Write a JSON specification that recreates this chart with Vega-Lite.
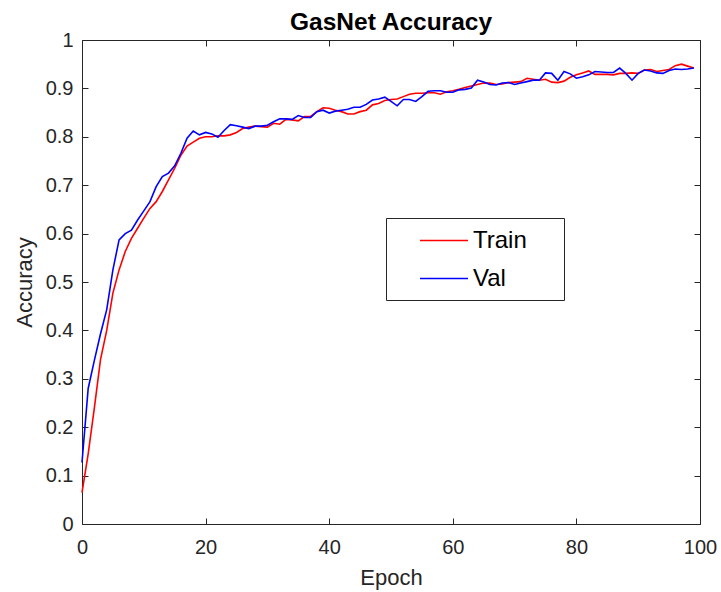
{
"$schema":"https://vega.github.io/schema/vega-lite/v6.json",
"width":618,"height":484,
"autosize":{"type":"none"},
"padding":{"left":82,"top":40,"right":21,"bottom":68},
"background":"white",
"title":{"text":"GasNet Accuracy","font":"Liberation Sans","fontSize":24.5,"fontWeight":"bold","color":"black","anchor":"middle","frame":"group","baseline":"alphabetic","offset":-24},
"config":{"view":{"stroke":null},
"axis":{"grid":false,"labelFlush":false,"domainColor":"#262626","domainWidth":1,"tickColor":"#262626","tickSize":-6,"tickWidth":1,"labelFont":"Liberation Sans","labelFontSize":20,"labelColor":"#262626","titleFont":"Liberation Sans","titleFontSize":22,"titleFontWeight":"normal","titleColor":"#262626"}},
"datasets":{"acc":[
{"epoch":0,"set":"Train","acc":0.065},{"epoch":1,"set":"Train","acc":0.145},{"epoch":2,"set":"Train","acc":0.24},{"epoch":3,"set":"Train","acc":0.34},{"epoch":4,"set":"Train","acc":0.40},{"epoch":5,"set":"Train","acc":0.477},{"epoch":6,"set":"Train","acc":0.525},{"epoch":7,"set":"Train","acc":0.563},{"epoch":8,"set":"Train","acc":0.59},{"epoch":9,"set":"Train","acc":0.611},
{"epoch":10,"set":"Train","acc":0.632},{"epoch":11,"set":"Train","acc":0.652},{"epoch":12,"set":"Train","acc":0.666},{"epoch":13,"set":"Train","acc":0.687},{"epoch":14,"set":"Train","acc":0.711},{"epoch":15,"set":"Train","acc":0.735},{"epoch":16,"set":"Train","acc":0.762},{"epoch":17,"set":"Train","acc":0.781},{"epoch":18,"set":"Train","acc":0.789},{"epoch":19,"set":"Train","acc":0.797},
{"epoch":20,"set":"Train","acc":0.8},{"epoch":21,"set":"Train","acc":0.8},{"epoch":22,"set":"Train","acc":0.802},{"epoch":23,"set":"Train","acc":0.802},{"epoch":24,"set":"Train","acc":0.804},{"epoch":25,"set":"Train","acc":0.809},{"epoch":26,"set":"Train","acc":0.817},{"epoch":27,"set":"Train","acc":0.82},{"epoch":28,"set":"Train","acc":0.822},{"epoch":29,"set":"Train","acc":0.821},
{"epoch":30,"set":"Train","acc":0.82},{"epoch":31,"set":"Train","acc":0.828},{"epoch":32,"set":"Train","acc":0.826},{"epoch":33,"set":"Train","acc":0.836},{"epoch":34,"set":"Train","acc":0.835},{"epoch":35,"set":"Train","acc":0.833},{"epoch":36,"set":"Train","acc":0.842},{"epoch":37,"set":"Train","acc":0.842},{"epoch":38,"set":"Train","acc":0.852},{"epoch":39,"set":"Train","acc":0.86},
{"epoch":40,"set":"Train","acc":0.859},{"epoch":41,"set":"Train","acc":0.855},{"epoch":42,"set":"Train","acc":0.852},{"epoch":43,"set":"Train","acc":0.847},{"epoch":44,"set":"Train","acc":0.847},{"epoch":45,"set":"Train","acc":0.852},{"epoch":46,"set":"Train","acc":0.855},{"epoch":47,"set":"Train","acc":0.866},{"epoch":48,"set":"Train","acc":0.869},{"epoch":49,"set":"Train","acc":0.875},
{"epoch":50,"set":"Train","acc":0.877},{"epoch":51,"set":"Train","acc":0.878},{"epoch":52,"set":"Train","acc":0.883},{"epoch":53,"set":"Train","acc":0.888},{"epoch":54,"set":"Train","acc":0.89},{"epoch":55,"set":"Train","acc":0.89},{"epoch":56,"set":"Train","acc":0.891},{"epoch":57,"set":"Train","acc":0.891},{"epoch":58,"set":"Train","acc":0.888},{"epoch":59,"set":"Train","acc":0.893},
{"epoch":60,"set":"Train","acc":0.895},{"epoch":61,"set":"Train","acc":0.898},{"epoch":62,"set":"Train","acc":0.902},{"epoch":63,"set":"Train","acc":0.905},{"epoch":64,"set":"Train","acc":0.908},{"epoch":65,"set":"Train","acc":0.911},{"epoch":66,"set":"Train","acc":0.911},{"epoch":67,"set":"Train","acc":0.908},{"epoch":68,"set":"Train","acc":0.909},{"epoch":69,"set":"Train","acc":0.912},
{"epoch":70,"set":"Train","acc":0.913},{"epoch":71,"set":"Train","acc":0.914},{"epoch":72,"set":"Train","acc":0.921},{"epoch":73,"set":"Train","acc":0.919},{"epoch":74,"set":"Train","acc":0.917},{"epoch":75,"set":"Train","acc":0.919},{"epoch":76,"set":"Train","acc":0.913},{"epoch":77,"set":"Train","acc":0.912},{"epoch":78,"set":"Train","acc":0.915},{"epoch":79,"set":"Train","acc":0.923},
{"epoch":80,"set":"Train","acc":0.928},{"epoch":81,"set":"Train","acc":0.932},{"epoch":82,"set":"Train","acc":0.936},{"epoch":83,"set":"Train","acc":0.929},{"epoch":84,"set":"Train","acc":0.929},{"epoch":85,"set":"Train","acc":0.929},{"epoch":86,"set":"Train","acc":0.928},{"epoch":87,"set":"Train","acc":0.931},{"epoch":88,"set":"Train","acc":0.931},{"epoch":89,"set":"Train","acc":0.932},
{"epoch":90,"set":"Train","acc":0.931},{"epoch":91,"set":"Train","acc":0.938},{"epoch":92,"set":"Train","acc":0.939},{"epoch":93,"set":"Train","acc":0.935},{"epoch":94,"set":"Train","acc":0.937},{"epoch":95,"set":"Train","acc":0.939},{"epoch":96,"set":"Train","acc":0.947},{"epoch":97,"set":"Train","acc":0.95},{"epoch":98,"set":"Train","acc":0.946},{"epoch":99,"set":"Train","acc":0.942},
{"epoch":0,"set":"Val","acc":0.127},{"epoch":1,"set":"Val","acc":0.28},{"epoch":2,"set":"Val","acc":0.338},{"epoch":3,"set":"Val","acc":0.393},{"epoch":4,"set":"Val","acc":0.443},{"epoch":5,"set":"Val","acc":0.525},{"epoch":6,"set":"Val","acc":0.587},{"epoch":7,"set":"Val","acc":0.6},{"epoch":8,"set":"Val","acc":0.607},{"epoch":9,"set":"Val","acc":0.628},
{"epoch":10,"set":"Val","acc":0.647},{"epoch":11,"set":"Val","acc":0.666},{"epoch":12,"set":"Val","acc":0.697},{"epoch":13,"set":"Val","acc":0.718},{"epoch":14,"set":"Val","acc":0.725},{"epoch":15,"set":"Val","acc":0.74},{"epoch":16,"set":"Val","acc":0.766},{"epoch":17,"set":"Val","acc":0.797},{"epoch":18,"set":"Val","acc":0.812},{"epoch":19,"set":"Val","acc":0.804},
{"epoch":20,"set":"Val","acc":0.809},{"epoch":21,"set":"Val","acc":0.806},{"epoch":22,"set":"Val","acc":0.799},{"epoch":23,"set":"Val","acc":0.813},{"epoch":24,"set":"Val","acc":0.825},{"epoch":25,"set":"Val","acc":0.823},{"epoch":26,"set":"Val","acc":0.82},{"epoch":27,"set":"Val","acc":0.817},{"epoch":28,"set":"Val","acc":0.822},{"epoch":29,"set":"Val","acc":0.822},
{"epoch":30,"set":"Val","acc":0.824},{"epoch":31,"set":"Val","acc":0.831},{"epoch":32,"set":"Val","acc":0.837},{"epoch":33,"set":"Val","acc":0.837},{"epoch":34,"set":"Val","acc":0.836},{"epoch":35,"set":"Val","acc":0.844},{"epoch":36,"set":"Val","acc":0.84},{"epoch":37,"set":"Val","acc":0.84},{"epoch":38,"set":"Val","acc":0.852},{"epoch":39,"set":"Val","acc":0.855},
{"epoch":40,"set":"Val","acc":0.849},{"epoch":41,"set":"Val","acc":0.853},{"epoch":42,"set":"Val","acc":0.855},{"epoch":43,"set":"Val","acc":0.857},{"epoch":44,"set":"Val","acc":0.861},{"epoch":45,"set":"Val","acc":0.861},{"epoch":46,"set":"Val","acc":0.867},{"epoch":47,"set":"Val","acc":0.876},{"epoch":48,"set":"Val","acc":0.878},{"epoch":49,"set":"Val","acc":0.882},
{"epoch":50,"set":"Val","acc":0.873},{"epoch":51,"set":"Val","acc":0.864},{"epoch":52,"set":"Val","acc":0.877},{"epoch":53,"set":"Val","acc":0.877},{"epoch":54,"set":"Val","acc":0.873},{"epoch":55,"set":"Val","acc":0.883},{"epoch":56,"set":"Val","acc":0.894},{"epoch":57,"set":"Val","acc":0.895},{"epoch":58,"set":"Val","acc":0.895},{"epoch":59,"set":"Val","acc":0.892},
{"epoch":60,"set":"Val","acc":0.892},{"epoch":61,"set":"Val","acc":0.897},{"epoch":62,"set":"Val","acc":0.898},{"epoch":63,"set":"Val","acc":0.901},{"epoch":64,"set":"Val","acc":0.917},{"epoch":65,"set":"Val","acc":0.913},{"epoch":66,"set":"Val","acc":0.908},{"epoch":67,"set":"Val","acc":0.907},{"epoch":68,"set":"Val","acc":0.911},{"epoch":69,"set":"Val","acc":0.912},
{"epoch":70,"set":"Val","acc":0.908},{"epoch":71,"set":"Val","acc":0.911},{"epoch":72,"set":"Val","acc":0.914},{"epoch":73,"set":"Val","acc":0.917},{"epoch":74,"set":"Val","acc":0.917},{"epoch":75,"set":"Val","acc":0.932},{"epoch":76,"set":"Val","acc":0.931},{"epoch":77,"set":"Val","acc":0.917},{"epoch":78,"set":"Val","acc":0.935},{"epoch":79,"set":"Val","acc":0.93},
{"epoch":80,"set":"Val","acc":0.921},{"epoch":81,"set":"Val","acc":0.924},{"epoch":82,"set":"Val","acc":0.928},{"epoch":83,"set":"Val","acc":0.935},{"epoch":84,"set":"Val","acc":0.934},{"epoch":85,"set":"Val","acc":0.933},{"epoch":86,"set":"Val","acc":0.933},{"epoch":87,"set":"Val","acc":0.942},{"epoch":88,"set":"Val","acc":0.931},{"epoch":89,"set":"Val","acc":0.917},
{"epoch":90,"set":"Val","acc":0.931},{"epoch":91,"set":"Val","acc":0.938},{"epoch":92,"set":"Val","acc":0.936},{"epoch":93,"set":"Val","acc":0.932},{"epoch":94,"set":"Val","acc":0.931},{"epoch":95,"set":"Val","acc":0.937},{"epoch":96,"set":"Val","acc":0.94},{"epoch":97,"set":"Val","acc":0.939},{"epoch":98,"set":"Val","acc":0.94},{"epoch":99,"set":"Val","acc":0.942}
]},
"data":{"name":"acc"},
"layer":[
{"mark":{"type":"line","strokeWidth":1.6},
"encoding":{
"x":{"field":"epoch","type":"quantitative","scale":{"domain":[0,100],"nice":false},"axis":{"orient":"bottom","values":[0,20,40,60,80,100],"title":"Epoch","labelPadding":19,"titleBaseline":"alphabetic","titleY":60}},
"y":{"field":"acc","type":"quantitative","scale":{"domain":[0,1],"nice":false},"axis":{"orient":"left","values":[0,0.1,0.2,0.3,0.4,0.5,0.6,0.7,0.8,0.9,1],"format":"~g","title":"Accuracy","labelPadding":15,"titleBaseline":"alphabetic","titleX":-51}},
"color":{"field":"set","type":"nominal","scale":{"domain":["Train","Val"],"range":["#ff0000","#0000ff"]},
"legend":{"orient":"none","legendX":304,"legendY":178,"title":"\u00a0","titleOrient":"right","titlePadding":28,"titleFontSize":2,"direction":"vertical","symbolType":"M-2,0H2","symbolSize":576,"symbolStrokeWidth":1.5,"symbolOffset":35.5,"labelOffset":16,"labelFont":"Liberation Sans","labelFontSize":24,"labelColor":"black","padding":9.5,"rowPadding":13,"strokeColor":"#262626","fillColor":"white"}}
}},
{"mark":{"type":"line","opacity":0},
"encoding":{
"x":{"field":"epoch","type":"quantitative","axis":{"orient":"top","values":[0,20,40,60,80,100],"labels":false,"title":null}},
"y":{"field":"acc","type":"quantitative","axis":{"orient":"right","values":[0,0.1,0.2,0.3,0.4,0.5,0.6,0.7,0.8,0.9,1],"labels":false,"title":null}},
"detail":{"field":"set"}
}}
],
"resolve":{"axis":{"x":"independent","y":"independent"}}
}
